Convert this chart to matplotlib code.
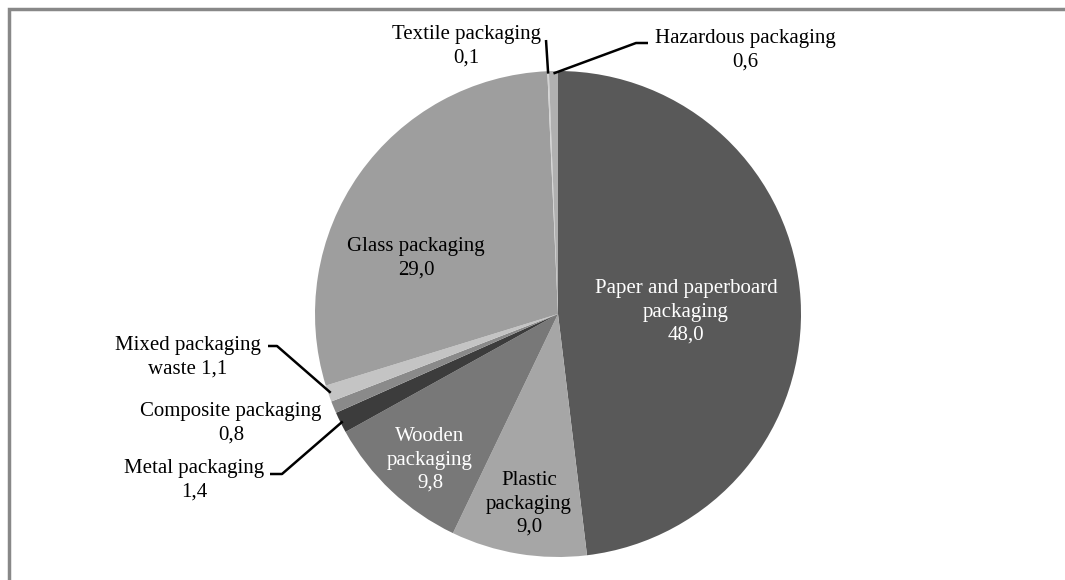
import numpy as np
import matplotlib
matplotlib.use('Agg')
import matplotlib.pyplot as plt
from matplotlib.patches import Rectangle

# packaging waste shares, clockwise from 12 o'clock
names = ["Paper and paperboard\npackaging", "Plastic\npackaging", "Wooden\npackaging",
         "Metal packaging", "Composite packaging", "Mixed packaging\nwaste",
         "Glass packaging", "Textile packaging", "Hazardous packaging"]
values = [48.0, 9.0, 9.8, 1.4, 0.8, 1.1, 29.0, 0.1, 0.6]
colours = ["#595959", "#a6a6a6", "#787878", "#3c3c3c", "#8a8a8a",
           "#c4c4c4", "#9e9e9e", "#d2d2d2", "#b0b0b0"]

def fmt(v):
    return ("%.1f" % v).replace(".", ",")

plt.rcParams['font.family'] = ['Liberation Serif', 'DejaVu Serif']

fig = plt.figure(figsize=(10.65, 5.8), dpi=100)
ax = fig.add_axes([0, 0, 1, 1])
ax.set_xlim(0, 1065)
ax.set_ylim(0, 580)
ax.set_aspect('equal')
ax.axis('off')

# frame around the chart area
ax.add_patch(Rectangle((9, -20), 1100, 571 + 20, fill=False, edgecolor='#888888', lw=2.5))

cx, cy, r = 558, 266, 243
wedges, _ = ax.pie(values, colors=colours, startangle=90, counterclock=False,
                   center=(cx, cy), radius=r, wedgeprops=dict(linewidth=0),
                   normalize=True)
ax.set_xlim(0, 1065)
ax.set_ylim(0, 580)

def mid_point(w, frac=1.0):
    a = np.deg2rad((w.theta1 + w.theta2) / 2)
    return cx + frac * r * np.cos(a), cy + frac * r * np.sin(a)

fs = 15
ls = 1.32
# labels inside the big slices
inside = {0: (686, 268, 'white'), 1: (529, 76, 'black'), 2: (430, 120, 'white'),
          6: (416, 322, 'black')}
for i, (x, y, c) in inside.items():
    ax.text(x, y, names[i] + "\n" + fmt(values[i]), ha='center', va='center',
            color=c, fontsize=fs, linespacing=ls)

# outside labels with leader lines: text centre, stub start, stub end
outside = {
    7: ((466, 534), (546, 540), (546, 540)),
    8: ((745, 530), (648, 537), (636, 537)),
    5: ((188, 223), (268, 234), (277, 234)),
    4: ((231, 157), None, None),
    3: ((194, 100), (270, 106), (282, 106)),
}
for i, ((tx, ty), s0, s1) in outside.items():
    if i == 5:
        txt = names[i] + " " + fmt(values[i])
    else:
        txt = names[i] + "\n" + fmt(values[i])
    ax.text(tx, ty, txt, ha='center', va='center', color='black',
            fontsize=fs, linespacing=ls)
    if s0 is not None:
        px, py = mid_point(wedges[i], 0.99)
        ax.plot([s0[0], s1[0], px], [s0[1], s1[1], py], color='black', lw=1.8,
                solid_capstyle='butt')

fig.savefig('out.png', dpi=100)
